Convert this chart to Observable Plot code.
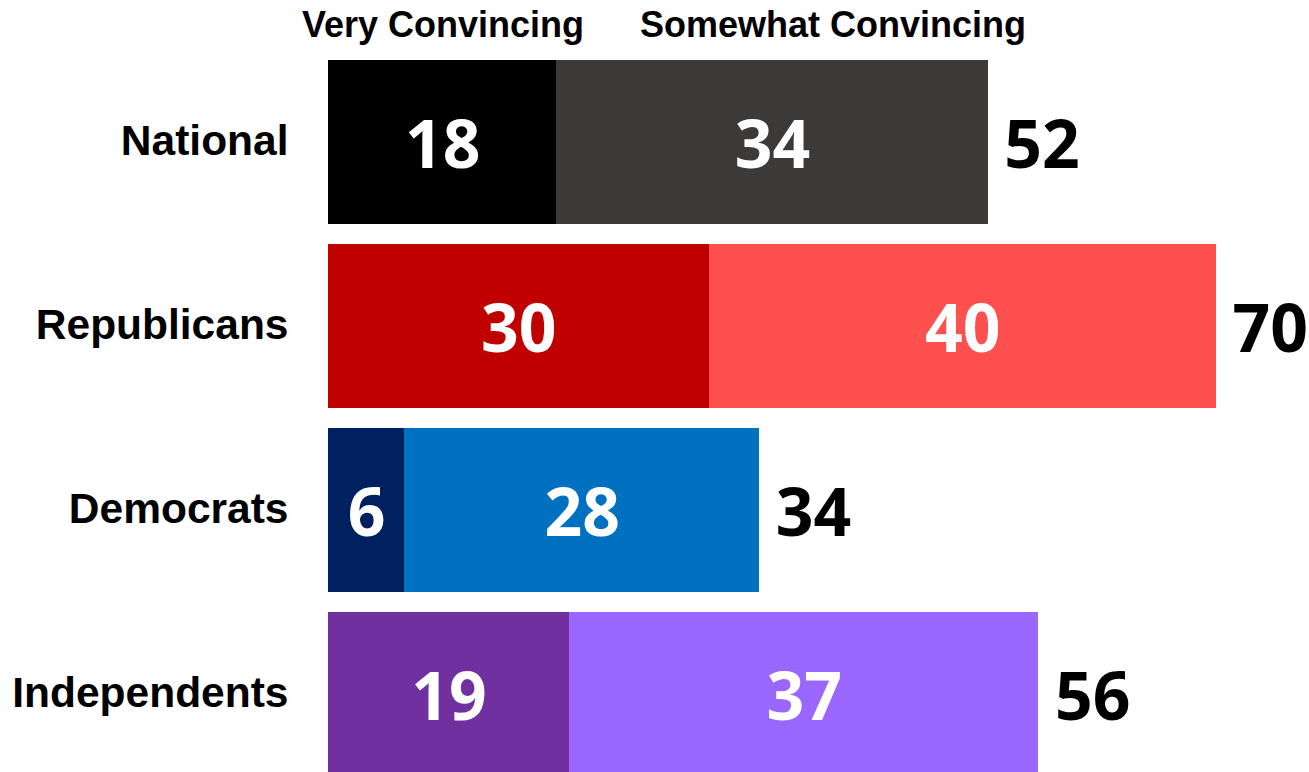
<!DOCTYPE html>
<html>
<head>
<meta charset="utf-8">
<script src="https://cdn.jsdelivr.net/npm/d3@7"></script>
<script src="https://cdn.jsdelivr.net/npm/@observablehq/plot@0.6"></script>
<style>
  html, body { margin: 0; padding: 0; background: #fff; overflow: hidden; }
  #wrap { position: relative; width: 1309px; height: 772px; }
  #header { position: relative; height: 60px; font-family: "Liberation Sans", Arial, sans-serif; font-weight: bold; font-size: 36px; color: #000; }
  #header span { position: absolute; top: 4px; transform: translateX(-50%); white-space: nowrap; }
  #h1 { left: 443px; }
  #h2 { left: 833px; }
  svg { display: block; overflow: visible; }
</style>
</head>
<body>
<div id="wrap">
  <div id="header"><span id="h1"></span><span id="h2"></span></div>
  <div id="chart"></div>
</div>
<script>
const groups = ["National", "Republicans", "Democrats", "Independents"];
const levels = ["Very Convincing", "Somewhat Convincing"];
const veryValues = [18, 30, 6, 19];
const somewhatValues = [34, 40, 28, 37];
const totals = [52, 70, 34, 56];
const veryColors = ["#000000", "#c00000", "#002060", "#7030a0"];
const somewhatColors = ["#3c3a39", "#ff5050", "#0070c0", "#9966ff"];

document.getElementById("h1").textContent = levels[0];
document.getElementById("h2").textContent = levels[1];

const rows = [];
groups.forEach((g, i) => {
  rows.push({group: g, level: levels[0], value: veryValues[i], key: g + "|" + levels[0]});
  rows.push({group: g, level: levels[1], value: somewhatValues[i], key: g + "|" + levels[1]});
});
const totalRows = groups.map((g, i) => ({group: g, total: totals[i]}));

const colorDomain = [], colorRange = [];
groups.forEach((g, i) => {
  colorDomain.push(g + "|" + levels[0]); colorRange.push(veryColors[i]);
  colorDomain.push(g + "|" + levels[1]); colorRange.push(somewhatColors[i]);
});

const numFont = "'Open Sans', 'Noto Sans', sans-serif";

const chart = Plot.plot({
  width: 1309,
  height: 716,
  marginLeft: 328,
  marginRight: 93,
  marginTop: 0,
  marginBottom: 0,
  x: {domain: [0, 70], axis: null},
  y: {domain: groups, paddingInner: 20 / 184, paddingOuter: 0, label: null},
  color: {domain: colorDomain, range: colorRange},
  style: {background: "transparent"},
  marks: [
    Plot.barX(rows, Plot.stackX({x: "value", y: "group", fill: "key", order: null, shapeRendering: "crispEdges"})),
    Plot.text(rows, Plot.stackX({
      x: "value", y: "group", text: d => String(d.value), order: null,
      fill: "white", fontSize: 66, fontWeight: "bold", fontFamily: numFont, dy: 4
    })),
    Plot.text(totalRows, {
      x: "total", y: "group", text: d => String(d.total),
      textAnchor: "start", dx: 16, dy: 4,
      fill: "black", fontSize: 66, fontWeight: "bold", fontFamily: numFont
    }),
    Plot.axisY({
      tickSize: 0, tickPadding: 40, label: null,
      fontSize: 42.5, fontWeight: "bold", fontFamily: "'Liberation Sans', Arial, sans-serif",
      fill: "black", dy: -1
    })
  ]
});
document.getElementById("chart").appendChild(chart);
</script>
</body>
</html>
